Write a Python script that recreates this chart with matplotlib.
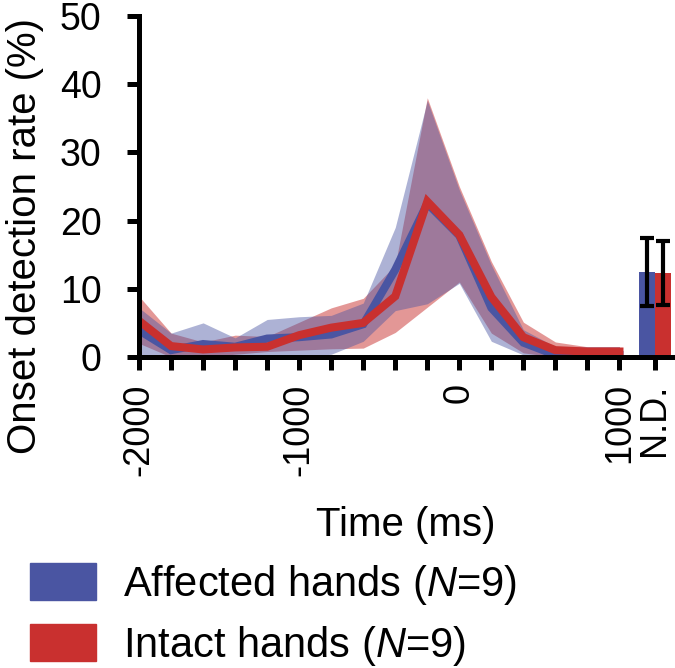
import matplotlib
matplotlib.use('Agg')
import matplotlib.pyplot as plt
from matplotlib.patches import Patch

plt.rcParams['font.family'] = ['Liberation Sans', 'DejaVu Sans']
plt.rcParams['mathtext.fontset'] = 'custom'
plt.rcParams['mathtext.rm'] = 'Liberation Sans'
plt.rcParams['mathtext.it'] = 'Liberation Sans:italic'

# onset time bins (ms)
time_ms = [-2000, -1800, -1600, -1400, -1200, -1000, -800, -600,
           -400, -200, 0, 200, 400, 600, 800, 1000]

# affected hands: mean and shaded band
affected_mean = [3.9, 1.0, 1.9, 1.5, 2.7, 2.9, 3.3, 4.8,
                 12.8, 22.5, 17.8, 7.2, 2.1, 0.3, 0.3, 0.3]
affected_upper = [7.2, 3.5, 5.0, 2.8, 5.5, 5.9, 6.1, 7.9,
                  19.0, 37.6, 24.5, 13.5, 4.0, 1.5, 1.5, 1.5]
affected_lower = [0.4, 0.0, 0.0, 0.0, 0.0, 0.0, 0.4, 2.3,
                  6.8, 7.8, 10.8, 2.3, 0.3, 0.0, 0.0, 0.0]

# intact hands: mean and shaded band
intact_mean = [5.3, 1.6, 1.1, 1.4, 1.5, 3.2, 4.3, 5.0,
               8.9, 22.8, 17.9, 8.8, 2.9, 1.0, 0.8, 0.8]
intact_upper = [8.9, 3.5, 2.2, 3.2, 3.0, 5.1, 7.2, 8.6,
                13.5, 38.0, 25.0, 14.0, 5.1, 2.2, 1.5, 1.5]
intact_lower = [2.0, 0.0, 0.0, 0.4, 0.8, 1.0, 1.2, 1.3,
                3.6, 7.3, 11.0, 3.5, 0.6, 0.0, 0.0, 0.0]

# not detected (N.D.) bars
nd_pos = 1220
nd_values = [12.5, 12.3]
nd_errors = [5.0, 4.7]

blue = '#4a55a2'
red = '#c9302f'

fig = plt.figure(figsize=(6.75, 6.68), dpi=100)
ax = fig.add_axes([0.206, 0.4656, 0.79, 0.5105])

# red band first, blue band on top -> purple overlap
ax.fill_between(time_ms, intact_lower, intact_upper, color=red, alpha=0.5, lw=0)
ax.fill_between(time_ms, affected_lower, affected_upper, color=blue, alpha=0.45, lw=0)
ax.plot(time_ms, affected_mean, color=blue, lw=5.8, solid_joinstyle='miter')
ax.plot(time_ms, intact_mean, color=red, lw=5.8, solid_joinstyle='miter')

ax.bar([nd_pos - 50, nd_pos + 50], nd_values, width=100, color=[blue, red])
ax.errorbar([nd_pos - 50, nd_pos + 50], nd_values, yerr=nd_errors, fmt='none',
            ecolor='black', elinewidth=3, capsize=5, capthick=3)

ax.set_xlim(-2000, 1330)
ax.set_ylim(0, 50)
ax.set_yticks([0, 10, 20, 30, 40, 50])
xt = time_ms + [nd_pos]
xl = ['-2000' if t == -2000 else '-1000' if t == -1000 else '0' if t == 0
      else '1000' if t == 1000 else '' for t in time_ms] + ['N.D.']
ax.set_xticks(xt)
ax.set_xticklabels(xl, rotation=90)

for s in ['top', 'right']:
    ax.spines[s].set_visible(False)
for s in ['left', 'bottom']:
    ax.spines[s].set_linewidth(3.6)
ax.tick_params(width=3.6, length=9, labelsize=27)
ax.tick_params(axis='x', labelsize=26, pad=10)
ax.tick_params(axis='y', pad=18)

ax.set_xlabel('Time (ms)', fontsize=29, labelpad=22)
fig.text(0.037, 0.647, 'Onset detection rate (%)', rotation=90,
         fontsize=29, ha='center', va='center')

handles = [Patch(color=blue), Patch(color=red)]
fig.legend(handles, ['Affected hands ($N$=9)', 'Intact hands ($N$=9)'],
           loc='upper left', bbox_to_anchor=(0.044, 0.157), frameon=False,
           fontsize=30, handlelength=1.6, handleheight=1.0,
           handletextpad=0.65, labelspacing=0.4, borderaxespad=0, borderpad=0)

fig.savefig('out.png', dpi=100)
